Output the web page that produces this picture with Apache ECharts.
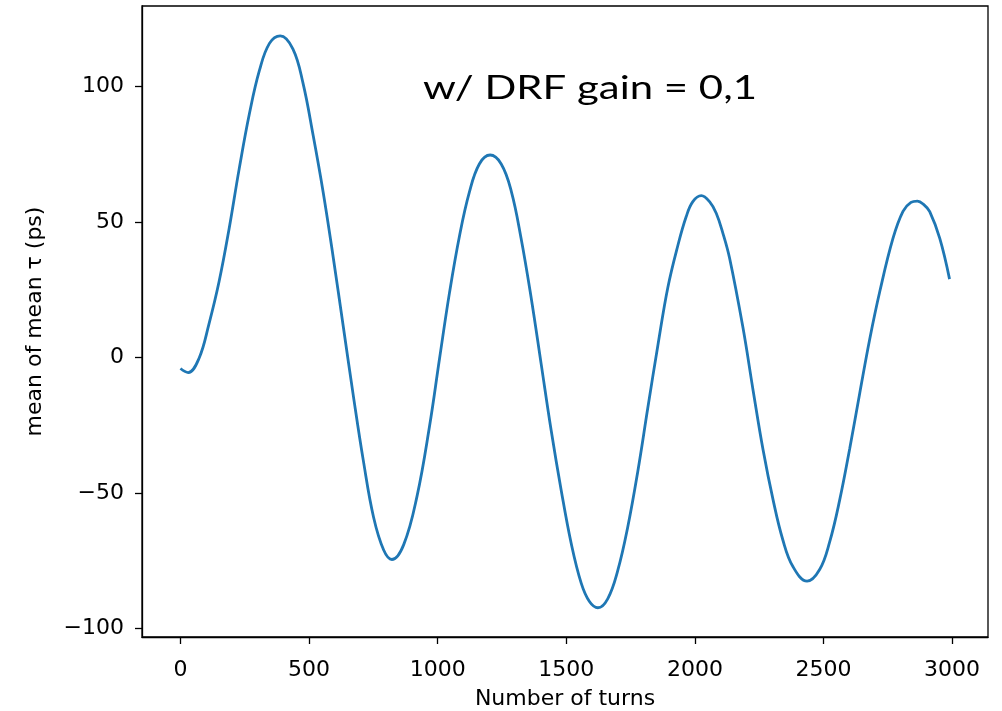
<!DOCTYPE html>
<html lang="en">
<head>
  <meta charset="UTF-8">
  <title>mean of mean tau</title>
  <style>
    * {
      padding: 0;
      margin: 0;
      box-sizing: border-box;
    }

    body {
      background: #fff;
    }

    #chart {
      width: 1002px;
      height: 711px;
    }
  </style>
</head>
<body>
  <div id="chart"></div>

  <script src="https://cdn.jsdelivr.net/npm/echarts@6/dist/echarts.min.js"></script>
  <script>
    // values
    const turns = [
      0, 30, 72, 111, 150, 189, 228, 268, 307, 346, 388, 437, 476, 516, 555, 594, 633, 672, 711, 751,
      790, 822, 868, 920, 968, 1007, 1046, 1085, 1123, 1162, 1204, 1247, 1286, 1324, 1363, 1402, 1441,
      1480, 1519, 1558, 1590, 1623, 1661, 1700, 1739, 1778, 1817, 1856, 1895, 1934, 1966, 1992, 2025,
      2057, 2083, 2109, 2135, 2187, 2226, 2265, 2304, 2342, 2381, 2436, 2485, 2524, 2563, 2602,
      2641, 2680, 2719, 2770, 2809, 2840, 2865, 2890, 2913, 2952, 2990
    ];
    const meanTau = [
      -4, -5.5, -0.3, 12.5, 28, 47.5, 69.5, 90, 106, 116, 118.8, 114, 101.5, 82, 61, 37, 11.5, -14, -38, -59,
      -71, -74.5, -69, -51, -25.5, -0.5, 24, 45, 61, 71.5, 74.8, 71.5, 61.5, 44.2, 22.4, -2.1, -26.7,
      -48.8, -68.5, -83.2, -90, -92.3, -89, -78.6, -62.5, -42, -18.5, 4.5, 26, 41.5, 52, 57.6, 59.8,
      57.6, 53.3, 45.9, 36.7, 11, -11.9, -34, -52.5, -67.3, -77.1, -82.5, -78.2, -68, -52.5, -33.5,
      -13, 7, 24.5, 44, 54, 57.3, 57.8, 56.5, 53.9, 44, 29
    ];
    const xTicks = [0, 500, 1000, 1500, 2000, 2500, 3000];
    const yTicks = [-100, -50, 0, 50, 100];

    const minus = v => String(v).replace('-', '\u2212');

    const chart = echarts.init(document.getElementById('chart'));
    chart.setOption({
      animation: false,
      grid: {
        left: 142,
        right: 14,
        top: 6,
        bottom: 74,
        outerBoundsMode: 'none',
        show: true,
        borderColor: '#000',
        borderWidth: 1.3
      },
      xAxis: {
        type: 'value',
        min: -149.5,
        max: 3139.5,
        name: 'Number of turns',
        nameLocation: 'middle',
        nameGap: 51,
        nameTextStyle: { fontFamily: 'DejaVu Sans', fontSize: 22, color: '#000' },
        axisLine: { onZero: false, lineStyle: { color: '#000', width: 1.3 } },
        axisTick: { customValues: xTicks, length: 7, lineStyle: { color: '#000', width: 1.3 } },
        axisLabel: {
          customValues: xTicks,
          formatter: minus,
          margin: 22,
          fontFamily: 'DejaVu Sans',
          fontSize: 22,
          color: '#000'
        },
        splitLine: { show: false }
      },
      yAxis: {
        type: 'value',
        min: -103.1,
        max: 129.8,
        name: 'mean of mean τ (ps)',
        nameLocation: 'middle',
        nameGap: 96,
        nameTextStyle: { fontFamily: 'DejaVu Sans', fontSize: 22, color: '#000' },
        axisLine: { onZero: false, lineStyle: { color: '#000', width: 1.3 } },
        axisTick: { customValues: yTicks, length: 7, lineStyle: { color: '#000', width: 1.3 } },
        axisLabel: {
          customValues: yTicks,
          formatter: minus,
          margin: 18,
          fontFamily: 'DejaVu Sans',
          fontSize: 22,
          color: '#000'
        },
        splitLine: { show: false }
      },
      graphic: [
        {
          type: 'text',
          x: 423,
          y: 88,
          scaleX: 1.27,
          style: {
            text: 'w/ DRF gain = 0,1',
            fontFamily: 'Lato',
            fontSize: 33,
            fill: '#000',
            align: 'left',
            verticalAlign: 'middle'
          }
        }
      ],
      series: [
        {
          type: 'line',
          data: turns.map((t, i) => [t, meanTau[i]]),
          showSymbol: false,
          smooth: 0.4,
          lineStyle: { color: '#1f77b4', width: 2.8 }
        }
      ]
    });
  </script>
</body>
</html>
